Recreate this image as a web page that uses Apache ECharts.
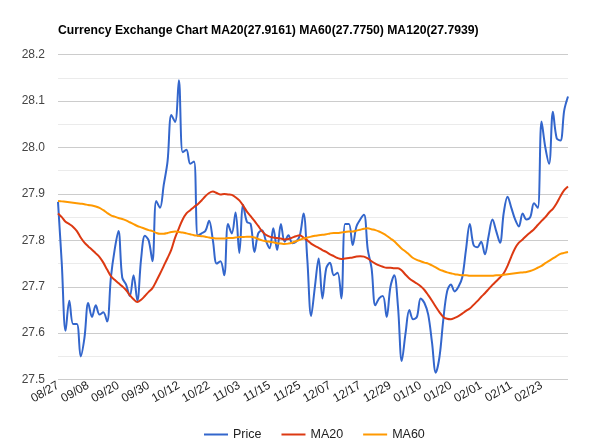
<!DOCTYPE html>
<html>
<head>
<meta charset="utf-8">
<script src="https://cdn.jsdelivr.net/npm/echarts@6/dist/echarts.min.js"></script>
<style>html,body{margin:0;padding:0;background:#fff}#c{width:600px;height:445px}</style>
</head>
<body>
<div id="c"></div>
<script>
const titleText = 'Currency Exchange Chart MA20(27.9161) MA60(27.7750) MA120(27.7939)';
const tickLabels = ['08/27','09/08','09/20','09/30','10/12','10/22','11/03','11/15','11/25','12/07','12/17','12/29','01/10','01/20','02/01','02/11','02/23'];
const labelEvery = 8;
const yTicks = [27.5, 27.6, 27.7, 27.8, 27.9, 28.0, 28.1, 28.2];

const price = [
27.883,27.75,27.605,27.67,27.62,27.62,27.55,27.59,27.665,27.635,
27.66,27.64,27.645,27.625,27.72,27.78,27.82,27.72,27.705,27.68,
27.725,27.67,27.76,27.81,27.80,27.755,27.885,27.87,27.92,27.97,
28.07,28.055,28.145,27.99,27.995,27.965,27.97,27.81,27.815,27.82,
27.842,27.80,27.75,27.755,27.725,27.835,27.815,27.86,27.773,27.876,
27.84,27.835,27.775,27.815,27.822,27.80,27.783,27.826,27.779,27.835,
27.797,27.811,27.794,27.797,27.81,27.858,27.758,27.637,27.70,27.761,
27.675,27.74,27.752,27.725,27.73,27.675,27.835,27.835,27.79,27.83,
27.845,27.855,27.78,27.74,27.66,27.675,27.68,27.635,27.70,27.725,
27.657,27.54,27.60,27.65,27.63,27.635,27.675,27.665,27.64,27.58,
27.515,27.55,27.63,27.69,27.705,27.69,27.70,27.72,27.78,27.835,
27.79,27.785,27.797,27.77,27.81,27.845,27.82,27.795,27.86,27.894,
27.87,27.845,27.83,27.858,27.845,27.85,27.88,27.87,28.056,28.00,
27.965,28.077,28.02,28.015,28.08,28.11
];

const ma20 = [
27.858,27.85,27.84,27.835,27.829,27.82,27.806,27.795,27.787,27.78,
27.772,27.764,27.752,27.737,27.723,27.715,27.708,27.701,27.693,27.682,
27.673,27.667,27.672,27.68,27.689,27.697,27.712,27.728,27.745,27.762,
27.78,27.806,27.826,27.845,27.858,27.865,27.872,27.878,27.886,27.895,
27.902,27.905,27.902,27.899,27.9,27.899,27.898,27.893,27.886,27.875,
27.862,27.852,27.842,27.831,27.82,27.812,27.808,27.806,27.805,27.804,
27.802,27.803,27.806,27.809,27.811,27.806,27.8,27.793,27.788,27.784,
27.779,27.775,27.77,27.766,27.762,27.76,27.761,27.762,27.763,27.765,
27.766,27.765,27.761,27.755,27.75,27.746,27.743,27.741,27.741,27.74,
27.74,27.735,27.726,27.718,27.712,27.707,27.701,27.693,27.682,27.67,
27.657,27.645,27.635,27.631,27.63,27.633,27.637,27.642,27.648,27.653,
27.661,27.669,27.678,27.686,27.695,27.704,27.712,27.72,27.729,27.745,
27.765,27.783,27.795,27.802,27.81,27.817,27.824,27.833,27.842,27.85,
27.86,27.868,27.88,27.895,27.908,27.916
];

const ma60 = [
27.885,27.884,27.883,27.882,27.881,27.88,27.879,27.878,27.876,27.875,
27.873,27.87,27.865,27.859,27.854,27.851,27.848,27.846,27.843,27.839,
27.835,27.831,27.828,27.825,27.822,27.82,27.816,27.814,27.814,27.816,
27.818,27.819,27.818,27.817,27.815,27.813,27.811,27.81,27.809,27.808,
27.806,27.805,27.804,27.804,27.804,27.805,27.805,27.806,27.807,27.807,
27.808,27.808,27.806,27.803,27.8,27.798,27.797,27.796,27.794,27.793,
27.792,27.793,27.795,27.798,27.801,27.804,27.806,27.808,27.81,27.811,
27.812,27.813,27.815,27.816,27.816,27.817,27.818,27.819,27.819,27.821,
27.823,27.825,27.826,27.824,27.822,27.819,27.815,27.81,27.804,27.798,
27.79,27.782,27.776,27.769,27.762,27.758,27.755,27.752,27.75,27.746,
27.742,27.737,27.734,27.731,27.729,27.727,27.726,27.725,27.725,27.724,
27.724,27.724,27.724,27.724,27.724,27.724,27.725,27.725,27.726,27.727,
27.728,27.729,27.73,27.731,27.732,27.734,27.737,27.741,27.745,27.751,
27.756,27.761,27.766,27.771,27.773,27.775
];

const categories = price.map((_, i) => String(i));

const chart = echarts.init(document.getElementById('c'), null, {renderer: 'canvas'});
const font = 'Arial, "Liberation Sans", sans-serif';
chart.setOption({
  animation: false,
  backgroundColor: '#fff',
  title: {
    text: titleText, left: 53, top: 20,
    textStyle: {fontFamily: font, fontSize: 12.2, fontWeight: 'bold', color: '#000'}
  },
  legend: {
    left: 199, top: 423, itemGap: 20, itemWidth: 24, itemHeight: 2,
    icon: 'rect',
    textStyle: {fontFamily: font, fontSize: 12.5, color: '#222'},
    data: ['Price', 'MA20', 'MA60']
  },
  grid: {left: 58, right: 32, top: 54.7, bottom: 65.4, containLabel: false},
  xAxis: {
    type: 'category', data: categories, boundaryGap: false,
    axisLine: {show: false}, axisTick: {show: false},
    axisLabel: {
      interval: (i) => i % labelEvery === 0,
      formatter: (v, i) => tickLabels[Math.round(i / labelEvery)] || '',
      rotate: 30, margin: 5,
      fontFamily: font, fontSize: 12, color: '#222'
    },
    splitLine: {show: false}
  },
  yAxis: {
    type: 'value', min: yTicks[0], max: yTicks[yTicks.length - 1], interval: 0.1,
    axisLine: {show: false}, axisTick: {show: false},
    axisLabel: {formatter: (v) => v.toFixed(1), fontFamily: font, fontSize: 12, color: '#444', margin: 13},
    splitLine: {lineStyle: {color: '#cccccc', width: 1}},
    minorTick: {show: false, splitNumber: 2},
    minorSplitLine: {show: true, lineStyle: {color: '#ebebeb', width: 1}}
  },
  series: [
    {name: 'Price', type: 'line', data: price, smooth: 0.35, showSymbol: false, lineStyle: {color: '#3366cc', width: 2}, itemStyle: {color: '#3366cc'}},
    {name: 'MA20', type: 'line', data: ma20, smooth: 0.35, showSymbol: false, lineStyle: {color: '#dc3912', width: 2}, itemStyle: {color: '#dc3912'}},
    {name: 'MA60', type: 'line', data: ma60, smooth: 0.35, showSymbol: false, lineStyle: {color: '#ff9900', width: 2}, itemStyle: {color: '#ff9900'}}
  ]
});
</script>
</body>
</html>
